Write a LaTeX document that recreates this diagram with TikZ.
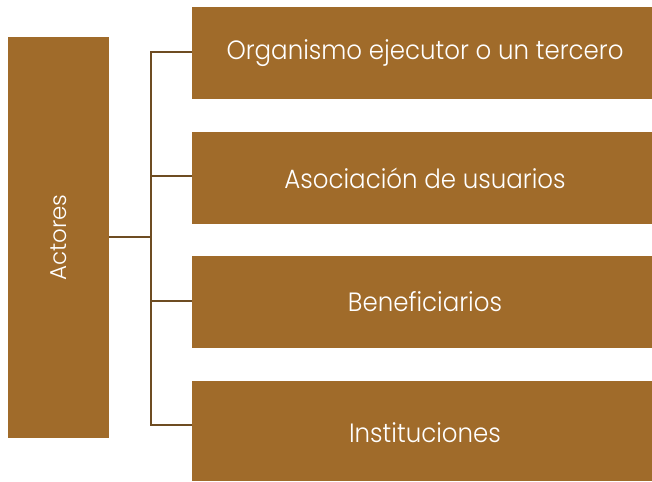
\documentclass[tikz,border=0pt]{standalone}
\usepackage{fontspec}
\setmainfont{Poppins}[UprightFont=* Light]
\definecolor{boxbrown}{HTML}{A06B2A}
\definecolor{linebrown}{HTML}{6E4C22}
\begin{document}
\begin{tikzpicture}[x=1pt,y=-1pt,
  box/.style={fill=boxbrown,draw=none,inner sep=0pt},
  lbl/.style={text=white,font=\fontsize{24.5}{28}\selectfont,inner sep=0pt,yscale=1.08},
  conn/.style={draw=linebrown,line width=2pt}]
\useasboundingbox (0,0) rectangle (652,481);
\fill[box] (8,37) rectangle (109,438);
\fill[box] (192,7) rectangle (652,99);
\fill[box] (192,132) rectangle (652,224);
\fill[box] (192,256) rectangle (652,348);
\fill[box] (192,381) rectangle (652,481);
\node[text=white,font=\fontsize{23}{26}\selectfont,inner sep=0pt,rotate=90] (act) at (58.5,237.5) {Actores};
\node[lbl] (b1) at (425,53) {Organismo ejecutor o un tercero};
\node[lbl] (b2) at (425,178) {Asociación de usuarios};
\node[lbl] (b3) at (425,302) {Beneficiarios};
\node[lbl] (b4) at (425,433) {Instituciones};
\coordinate (lr) at (109,237);
\coordinate (j) at (151,237);
\coordinate (t1) at (151,52);
\coordinate (t4) at (151,425);
\coordinate (e1) at (192,52);
\coordinate (e2) at (192,176);
\coordinate (e3) at (192,301);
\coordinate (e4) at (192,425);
\draw[conn] (lr) -- (j);
\draw[conn] (e1) -- (t1) -- (t4) -- (e4);
\draw[conn] (151,176) -- (e2);
\draw[conn] (151,301) -- (e3);
\end{tikzpicture}
\end{document}
